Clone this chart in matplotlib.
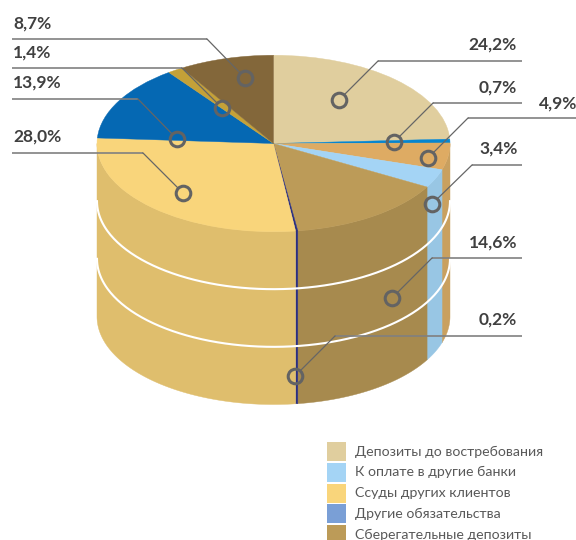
# coding: utf-8
import numpy as np
import matplotlib
matplotlib.use("Agg")
import matplotlib.pyplot as plt
from matplotlib.patches import Rectangle

plt.rcParams['font.family'] = ['Lato', 'Noto Sans', 'DejaVu Sans']

# shares, clockwise from the top of the pie
shares = [24.2, 0.7, 4.9, 3.4, 14.6, 0.2, 28.0, 13.9, 1.4, 8.7]
top_colors = ['#E0CE9E', '#0585CF', '#DEAB63', '#A4D4F5', '#BC9B58',
              '#2B2F7F', '#F9D57B', '#0568B3', '#C4A138', '#83673A']
side_colors = ['#C9B98E', '#0577BA', '#C9A05F', '#98C6E4', '#A78A4E',
               '#2B2F7F', '#DFBE6D', '#055DA0', '#B09032', '#755C34']

legend_names = ['Депозиты до востребования', 'К оплате в другие банки',
                'Ссуды других клиентов', 'Другие обязательства',
                'Сберегательные депозиты']
legend_colors = ['#E0CE9E', '#A4D4F5', '#F9D57B', '#7A9FD6', '#BC9B58']

# layout in image pixels
cx, cy, rx, ry, depth = 273.5, 143.5, 176.5, 88.0, 173.0
# label x, label y, line start x, line end x, line y, circle x, circle y
callouts = [
    (468.5, 45, 522, 378, 61, 339, 100),
    (478.5, 88, 522, 433, 103, 394, 142),
    (538.5, 104, 576, 468, 118, 428, 158),
    (479, 149, 522, 472, 165, 432, 204),
    (468.5, 243, 522, 432, 258, 392, 298),
    (478.5, 320, 522, 335, 336, 295, 376),
    (13, 137, 12, 143, 153, 183, 193),
    (13, 83, 12, 138, 99, 177, 139),
    (13, 53, 12, 182, 68, 222, 108),
    (13, 24, 12, 207, 39, 245, 78),
]


# the y axis has two data units per pixel, so the round pie comes out flattened
def py(y):
    return (540 - np.asarray(y, dtype=float)) * 2


fig = plt.figure(figsize=(5.76, 5.4), dpi=100)
ax = fig.add_axes([0, 0, 1, 1])

wedges, _ = ax.pie(shares, colors=top_colors, startangle=90, counterclock=False,
                   radius=rx, center=(cx, py(cy)), wedgeprops={'linewidth': 0})
for w in wedges:
    w.set_edgecolor(w.get_facecolor())
    w.set_linewidth(0.3)
    w.set_zorder(3)
ax.set_aspect('auto')
ax.set_xlim(0, 576)
ax.set_ylim(0, 1080)
ax.axis('off')

# side walls, only the front half of the cylinder shows
edges = np.cumsum([0] + shares) * 3.6
for i in range(len(shares)):
    a0 = max(edges[i], 90)
    a1 = min(edges[i + 1], 270)
    if a1 <= a0:
        continue
    t = np.radians(np.linspace(a0, a1, 80))
    xs = cx + rx * np.sin(t)
    ys = cy - ry * np.cos(t)
    ax.fill(np.r_[xs, xs[::-1]], py(np.r_[ys, ys[::-1] + depth]),
            color=side_colors[i], lw=0.3, zorder=1)

# white rings around the wall
t = np.radians(np.linspace(90, 270, 200))
for f in (1 / 3, 2 / 3):
    ax.plot(cx + rx * np.sin(t), py(cy - ry * np.cos(t) + depth * f),
            color='white', lw=1.5, zorder=2)

# callouts
for share, (lx, ly, x0, x1, y1, mx, my) in zip(shares, callouts):
    ax.plot([x0, x1], py([y1, y1]), color='#808080', lw=1.2, zorder=4,
            solid_capstyle='butt')
    d = np.hypot(mx - x1, my - y1)
    ex = mx - (mx - x1) / d * 7
    ey = my - (my - y1) / d * 7
    ax.plot([x1, ex], py([y1, ey]), color='#666666', lw=0.9, zorder=4)
    ax.plot([mx], py([my]), 'o', mfc='none', mec='#636363', ms=10.5, mew=2.2, zorder=5)
    ax.text(lx, py(ly), f"{share:.1f}".replace('.', ',') + '%', fontsize=12.5,
            fontweight='bold', color='#404040', ha='left', va='center', zorder=6)

# legend, the last row runs off the bottom of the image
for i, (name, col) in enumerate(zip(legend_names, legend_colors)):
    top = 442 + i * 20.8
    ax.add_patch(Rectangle((327, py(top + 19)), 19, 38, fc=col, ec='none', zorder=3))
    ax.text(355, py(top + 9.5), name, fontsize=10.15, color='#595959', ha='left',
            va='center', zorder=6)

fig.savefig('out.png', dpi=100)
